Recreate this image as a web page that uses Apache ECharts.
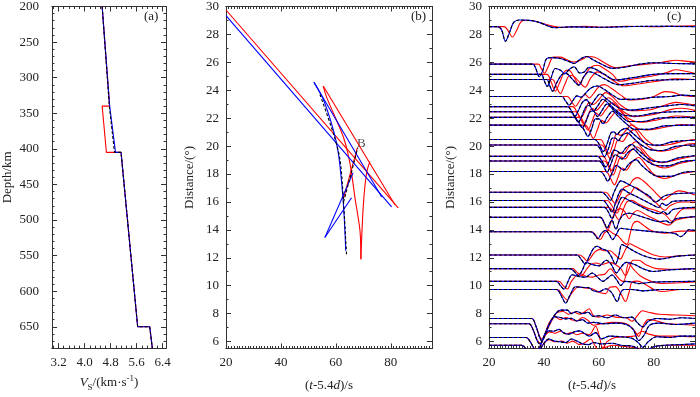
<!DOCTYPE html>
<html>
<head>
<meta charset="utf-8">
<script src="https://cdn.jsdelivr.net/npm/echarts@6/dist/echarts.min.js"></script>
<style>
  html, body { margin: 0; padding: 0; background: #fff; }
  #main { width: 700px; height: 397px; }
</style>
</head>
<body>
<div id="main"></div>
<script>
// ---- panel (a): S velocity vs depth ----
var vsBlue  = [[4.54, 200], [4.77, 340], [4.95, 405], [5.12, 405], [5.63, 650], [6.0, 650], [6.08, 680]];
var vsBlack = [[4.54, 200], [4.76, 340], [4.92, 405], [5.12, 405], [5.63, 650], [6.0, 650], [6.08, 680]];
var vsRed   = [[4.54, 200], [4.77, 340], [4.54, 340], [4.67, 405], [5.12, 405], [5.63, 650], [6.0, 650], [6.08, 680]];
var vsLabels = [3.2, 4.0, 4.8, 5.6, 6.4];
var depthLabels = [200, 250, 300, 350, 400, 450, 500, 550, 600, 650];

// ---- panel (b): travel time branches (t-5.4d, distance) ----
var ttBlue = [
  [[20, 29.35], [80.3, 15.65]],
  [[52.0, 24.58], [76.7, 16.35]],
  [[52.0, 24.58], [55.4, 23.35], [59.1, 21.14], [60.9, 19.5], [62.1, 17.4], [63.0, 15.07], [63.6, 12.5]],
  [[56.0, 13.45], [66.3, 18.1]],
  [[56.0, 13.45], [65.7, 16.3]]
];
var ttRed = [
  [[20, 29.75], [82.7, 15.58]],
  [[55.4, 24.3], [81.5, 15.8]],
  [[55.4, 24.3], [56.7, 23.47], [62.7, 20.67], [65.1, 18.8], [67.0, 16.24], [68.8, 13.9], [69.1, 11.9]],
  [[69.1, 11.9], [70.0, 15.77], [71.2, 18.1], [72.4, 18.9]],
  [[62.7, 16.2], [67.8, 19.85]]
];
var ttBlack = [
  [[54.2, 23.7], [59.1, 20.9], [61.5, 19.04], [62.7, 16.24], [63.9, 12.16]],
  [[62.8, 16.0], [65.5, 18.0], [68.0, 19.9]]
];
var pointB = [67.7, 20.2];

// ---- panel (c): waveforms, [time, offset in degrees] around each baseline ----
var traceDist = [28.56, 25.87, 25.14, 24.77, 23.55, 22.83, 22.46, 22.06, 21.5, 20.47, 20.08, 19.26, 18.93, 18.18,
                 16.69, 16.1, 15.61, 14.89, 13.86, 12.2, 11.22, 10.31, 9.73, 7.65, 7.27, 6.29, 5.73];
var waveBlue = [
  [[20,0],[23,0],[24.5,-0.2],[26,-1.05],[27.5,-0.4],[29,0.3],[31,0.47],[34,0.45],[36,0.42],[39,0.25],[42,0.0],[44,-0.08],[50,-0.02],[60,-0.05],[70,0.0],[80,0.02],[95,0]],
  [[20,0],[36,0],[37,-0.3],[38.3,-0.89],[39.5,-0.5],[41,0.4],[43,0.47],[46,0.4],[49,0.2],[51,0.05],[53.5,0.4],[55.5,0.55],[58,0.3],[61,0.0],[65,-0.3],[70,-0.2],[75,0.0],[80,0.1],[87,0.05],[95,0.02]],
  [[20,0],[39,0],[40,-0.4],[41.2,-0.86],[42.5,-0.3],[44.2,0.42],[46,0.3],[47.5,0.05],[49.5,0.4],[51,0.54],[53,0.1],[54.5,0.15],[56.5,0.5],[59,0.35],[62,0.0],[66,-0.4],[72,-0.25],[80,0.0],[88,0.05],[95,0.05]],
  [[20,0],[41,0],[42,-0.4],[43.2,-0.84],[44.5,-0.3],[46.5,0.35],[48,0.44],[50,0.1],[52.7,-0.4],[54.5,0.2],[56.5,0.56],[59,0.4],[62,0.05],[67.3,-0.37],[73,-0.25],[80,-0.05],[95,0]],
  [[20,0],[46.5,0],[47.8,-0.3],[49.2,-0.62],[50.5,-0.3],[52,0.05],[53.5,-0.05],[55,0.2],[57,0.6],[59.5,0.75],[62,0.5],[65,0.1],[68,-0.2],[72,-0.2],[80,-0.05],[86,0.0],[90,0.1],[95,0.05]],
  [[20,0],[48.5,0],[50,-0.3],[51.3,-0.7],[52.5,-0.3],[54,0.3],[55.5,0.5],[57,0.1],[58.5,0.5],[60.5,0.9],[62.5,0.6],[65,0.2],[68,-0.15],[72,-0.25],[78,-0.1],[85,0.05],[90,0.15],[95,0.05]],
  [[20,0],[49.5,0],[51,-0.3],[52.5,-0.75],[53.8,-0.3],[55.3,0.35],[56.5,0.45],[58,0.05],[59.5,0.4],[61.5,0.9],[63.5,0.6],[66,0.15],[69,-0.25],[74,-0.3],[80,-0.1],[88,0.0],[95,0.02]],
  [[20,0],[51,0],[52.5,-0.3],[54,-0.75],[55.3,-0.3],[56.8,0.4],[58,0.45],[59.5,0.05],[61,0.45],[63,0.95],[65,0.6],[68,0.1],[71,-0.3],[76,-0.3],[82,-0.05],[95,0]],
  [[20,0],[53,0],[54.5,-0.3],[56,-0.8],[57.3,-0.3],[58.8,0.45],[60,0.45],[61.5,0.1],[63,0.55],[65,1.0],[67,0.65],[70,0.1],[73,-0.3],[78,-0.3],[84,-0.05],[95,0]],
  [[20,0],[58.5,0],[60,-0.3],[61.6,-0.86],[63,-0.3],[64.5,0.5],[65.5,0.55],[66.5,0.35],[68,0.65],[70,0.8],[72,0.5],[75,0.0],[78,-0.35],[82,-0.4],[87,-0.15],[95,-0.05]],
  [[20,0],[59,0],[60.5,-0.3],[62,-0.85],[63.4,-0.3],[65,0.5],[66,0.5],[67,0.3],[68.5,0.7],[70.5,0.85],[72.5,0.5],[75.5,0.0],[79,-0.35],[83,-0.4],[88,-0.1],[95,0]],
  [[20,0],[59.5,0],[61,-0.3],[62.5,-0.75],[64,-0.25],[65.5,0.45],[66.5,0.4],[68,0.2],[70,0.65],[72,0.85],[74,0.5],[77,0.0],[80,-0.35],[84,-0.4],[89,-0.1],[95,0.05]],
  [[20,0],[60,0],[61.5,-0.3],[63,-0.8],[64.3,-0.25],[66,0.45],[67,0.35],[68.5,0.15],[70.5,0.6],[72.5,0.85],[74.5,0.5],[77.5,0.0],[80.5,-0.3],[85,-0.35],[90,-0.05],[95,0.05]],
  [[20,0],[60.5,0],[62,-0.3],[63.2,-0.7],[64.6,-0.2],[66.5,0.45],[67.5,0.3],[69,0.1],[71,0.55],[73.5,0.85],[75.5,0.45],[78.5,-0.05],[81.5,-0.35],[86,-0.35],[91,-0.05],[95,0.0]],
  [[20,0],[61,0],[62.5,-0.2],[64.2,-0.58],[65.5,0.0],[67,0.6],[68,0.82],[70,0.65],[73,0.35],[76,0.0],[78.5,-0.3],[80.5,-0.7],[82,-0.55],[84,-0.25],[88,-0.1],[95,-0.05]],
  [[20,0],[61.5,0],[63,-0.3],[64.8,-0.82],[66,-0.2],[67.3,0.5],[68.5,0.82],[70.5,0.6],[73.5,0.3],[77,-0.05],[80,-0.35],[81.8,-0.5],[83,-0.2],[84.5,-0.35],[87,-0.05],[95,0.0]],
  [[20,0],[62,0],[63.5,-0.35],[64.8,-0.8],[66,-0.3],[67.3,0.35],[68.5,0.72],[70.5,0.55],[74,0.2],[78,-0.2],[82,-0.45],[83.5,-0.3],[85,-0.5],[87,-0.15],[95,0.0]],
  [[20,0],[60.5,0],[62,-0.4],[63,-0.77],[64,-0.4],[64.8,-0.2],[65.5,-0.55],[66.2,-0.85],[67.5,-0.2],[69,0.2],[71,0.3],[74,0.15],[78,-0.1],[82,-0.3],[84.5,-0.25],[86,-0.4],[88,-0.1],[95,0.05]],
  [[20,0],[57,0],[58.5,-0.2],[59.6,-0.5],[61,-0.1],[62.5,0.1],[63.8,-0.2],[65,-0.56],[66.3,-0.2],[67.9,0.25],[70,0.2],[75,0.1],[80,0.0],[85,-0.05],[88,-0.15],[89.7,-0.35],[91.5,-0.1],[92.7,0.15],[95,0.1]],
  [[20,0],[52,0],[53.5,-0.3],[55,-0.65],[56.5,-0.1],[58,0.45],[59.3,0.63],[61,0.45],[63,0.3],[64.5,-0.1],[66,-0.65],[67.2,-0.1],[68.4,0.75],[70,0.6],[73,0.25],[77,-0.1],[82,-0.3],[88,-0.1],[95,0.0]],
  [[20,0],[49.5,0],[51,-0.2],[52.5,-0.5],[54,-0.1],[55.5,0.44],[57.5,0.3],[60,0.2],[62.7,0.6],[64.5,0.3],[66.4,-0.3],[68,0.1],[70,0.45],[73,0.3],[76,0.0],[79.7,-0.2],[85,-0.1],[95,0.0]],
  [[20,0],[44.5,0],[46,-0.3],[47.3,-0.56],[48.8,0.0],[50.3,0.47],[52.5,0.35],[55.2,0.3],[57.6,0.6],[59.5,0.3],[61.5,0.0],[63,0.2],[64.8,0.45],[66.5,0.1],[68,-0.3],[69.5,0.0],[72,-0.05],[74.5,-0.16],[80,-0.05],[95,0.0]],
  [[20,0],[44.5,0],[46.3,-0.45],[47.9,-0.98],[49.5,-0.4],[51.5,0.19],[53.5,0.15],[56.4,0.12],[58,-0.1],[60,-0.16],[62.5,0.05],[64.5,-0.2],[66.7,-0.86],[67.8,-0.3],[69.1,0.0],[72,0.0],[76,-0.1],[83,0.0],[95,0.0]],
  [[20,0],[35.5,0],[37,-0.5],[38.5,-1.4],[39.3,-1.6],[40.5,-1.1],[42.5,-0.2],[44.5,0.4],[46,0.6],[48.5,0.6],[50,0.35],[52,0.5],[54,0.35],[56,0.45],[58,0.15],[60,0.2],[63,0.05],[66,0.25],[69,0.05],[72,0.1],[74,-0.3],[76,-0.6],[78,-0.2],[81,0.0],[86,-0.05],[90,0.05],[95,0.0]],
  [[20,0],[34.5,0],[36,-0.4],[37.5,-1.2],[38.5,-1.45],[40,-0.9],[42,0.0],[44,0.5],[46,0.45],[48,0.35],[50,0.4],[52,0.2],[54,0.3],[56,0.05],[58,0.1],[62,0.0],[66,0.05],[70,-0.05],[72.5,-0.4],[74.5,-1.2],[76.5,-0.8],[78.5,-0.1],[82,0.05],[88,-0.05],[95,0.05]],
  [[20,0],[33.5,0],[35,-0.3],[36.5,-0.85],[37.5,-1.0],[38.5,-0.7],[40,0.05],[41.8,0.47],[43.5,0.45],[45.5,0.58],[47,0.35],[49,0.23],[51,0.4],[53,0.47],[55,0.25],[56.5,0.1],[58.8,0.35],[61,-0.1],[64,0.1],[68,0.05],[72,-0.05],[74.5,-0.4],[76,-0.7],[78,-0.3],[81,0.05],[86,0.0],[90,0.1],[95,0.1]],
  [[20,0],[32,0],[33.5,-0.3],[35,-0.8],[36.5,-1.0],[38,-0.6],[39.5,0.0],[41.8,0.44],[44,0.3],[46,0.25],[48,0.2],[50,0.45],[52,0.3],[54,0.1],[56.4,0.05],[58,0.2],[61,0.1],[65,0.15],[68,0.0],[72,-0.05],[75,-0.3],[77,-0.4],[80,-0.1],[84,0.0],[90,0.05],[95,0.1]]
];
var waveRed = [
  [[20,0],[25.5,0],[27,-0.3],[28.5,-0.75],[30,-0.3],[31.5,0.3],[33,0.45],[36,0.42],[40,0.2],[44,0.0],[46,-0.05],[55,0.03],[62,-0.05],[70,0.02],[80,0.0],[88,0.03],[95,0.05]],
  [[20,0],[38,0],[39,-0.3],[40.2,-0.65],[41.5,-0.2],[43.5,0.5],[46,0.5],[48,0.35],[51,0.15],[54,0.35],[56,0.55],[58.5,0.5],[62,0.1],[66,-0.25],[72,-0.1],[80,0.05],[85,0.2],[88,0.28],[92,0.2],[95,0.15]],
  [[20,0],[41,0],[42.5,-0.5],[44.2,-1.2],[45.5,-0.7],[47.5,0.2],[49,0.3],[51,-0.2],[52.7,-0.75],[54.5,-0.2],[57,0.5],[59.5,0.65],[62,0.4],[65,0.0],[67.5,-0.5],[72,-0.35],[80,-0.1],[85,0.15],[88,0.33],[92,0.2],[95,0.05]],
  [[20,0],[43,0],[44.5,-0.5],[46,-1.0],[47.5,-0.4],[49.5,0.3],[51,0.2],[53,-0.2],[55,-0.55],[57,0.1],[59.5,0.55],[62,0.35],[65,-0.05],[69,-0.45],[75,-0.3],[82,-0.1],[88,0.05],[95,0.0]],
  [[20,0],[48.5,0],[50,-0.35],[51.5,-0.7],[53,-0.3],[55,0.15],[56.5,-0.1],[58,0.2],[60,0.7],[62,0.85],[64.5,0.6],[68,0.1],[71,-0.25],[76,-0.2],[80,0.0],[84,0.35],[87,0.3],[90,0.1],[95,0.0]],
  [[20,0],[50.5,0],[52,-0.4],[53.5,-0.8],[55,-0.3],[56.5,0.3],[58,0.15],[60,0.5],[62.5,1.0],[65,0.7],[68,0.1],[72,-0.3],[78,-0.25],[84,0.1],[88,0.3],[92,0.2],[95,0.1]],
  [[20,0],[51.5,0],[53,-0.4],[54.5,-0.85],[56,-0.3],[57.5,0.25],[59,0.1],[61,0.5],[63.5,1.0],[66,0.65],[69,0.0],[73,-0.35],[80,-0.2],[86,0.15],[90,0.25],[95,0.1]],
  [[20,0],[53,0],[54.5,-0.4],[56,-0.9],[57.5,-0.3],[59,0.3],[60.5,0.1],[62.5,0.55],[65,1.05],[67.5,0.6],[70.5,-0.05],[75,-0.35],[82,-0.15],[88,0.1],[95,0.0]],
  [[20,0],[55,0],[56.5,-0.4],[58,-0.95],[59.5,-0.3],[61,0.35],[62.5,0.15],[64.5,0.6],[67,1.1],[69.5,0.6],[72.5,-0.05],[77,-0.35],[84,-0.15],[90,0.05],[95,0]],
  [[20,0],[60.5,0],[62,-0.4],[63.7,-1.0],[65,-0.4],[66.5,0.4],[68,0.3],[70,0.7],[72,1.05],[74.5,0.6],[77.5,-0.05],[81,-0.45],[86,-0.35],[91,-0.1],[95,0]],
  [[20,0],[61,0],[62.5,-0.4],[64.2,-1.0],[65.5,-0.4],[67,0.35],[68.5,0.25],[70.5,0.75],[72.8,1.1],[75,0.55],[78,-0.1],[82,-0.45],[87,-0.3],[92,0.05],[95,0.1]],
  [[20,0],[61.5,0],[63,-0.4],[64.7,-1.0],[66,-0.4],[67.5,0.3],[69,0.2],[71,0.7],[73.5,1.05],[76,0.5],[79,-0.15],[83,-0.45],[88,-0.25],[95,0.05]],
  [[20,0],[62,0],[63.5,-0.4],[65.2,-1.0],[66.5,-0.4],[68,0.3],[69.5,0.15],[71.5,0.7],[74,1.0],[76.5,0.5],[79.5,-0.2],[84,-0.5],[89,-0.2],[95,0.05]],
  [[20,0],[62.5,0],[64,-0.4],[65.7,-0.95],[67,-0.4],[68.5,0.25],[70,0.1],[72,0.65],[74.5,1.0],[77,0.5],[80,-0.2],[84,-0.5],[89,-0.2],[95,0.0]],
  [[20,0],[62.5,0],[64,-0.3],[66,-0.8],[67.5,-0.3],[69,0.3],[71,0.5],[72.5,0.9],[74,1.05],[76,0.85],[78,0.5],[80,0.1],[82,-0.3],[83.5,-0.55],[85.5,-0.3],[89,0.1],[95,-0.2]],
  [[20,0],[63,0],[64.5,-0.3],[66.6,-0.9],[68,-0.3],[70,0.3],[71.5,0.5],[73.3,0.95],[75,0.75],[77.5,0.35],[80,0.0],[82.5,-0.5],[84,-0.7],[86,-0.35],[90,-0.1],[95,-0.1]],
  [[20,0],[63.5,0],[65.5,-0.4],[67.3,-0.9],[68.8,-0.2],[70.2,0.4],[72,0.5],[74,0.3],[77,0.0],[81,-0.25],[84,-0.5],[86.7,-1.0],[88.5,-0.5],[91,-0.1],[95,-0.1]],
  [[20,0],[60.5,0],[62,-0.45],[63.2,-0.9],[64.5,-0.3],[66,0.4],[67.9,0.63],[69.5,0.4],[71,-0.1],[72.5,0.3],[74,0.5],[77,0.2],[80,-0.1],[83,-0.4],[85.5,-0.55],[88,-0.2],[95,0.05]],
  [[20,0],[57.5,0],[59,-0.3],[60.5,-0.55],[62,-0.1],[63.5,0.1],[65,-0.1],[67,-0.3],[69,-0.75],[70.2,-0.9],[71.3,-0.2],[72.5,0.6],[74,0.75],[76,0.5],[79,0.1],[84,-0.1],[90,0.05],[95,0.05]],
  [[20,0],[53,0],[54.5,-0.2],[55.8,-0.45],[57,-0.2],[58.5,0.2],[60.3,0.4],[62,0.3],[64,0.3],[66,0.0],[67.8,-0.3],[69,0.1],[70,0.5],[71.2,0.8],[73,0.65],[76,0.35],[80,0.0],[84,-0.15],[90,-0.05],[95,0.0]],
  [[20,0],[50.5,0],[52,-0.25],[53.7,-0.5],[55,-0.2],[57,0.3],[59,0.4],[61,0.3],[64,0.45],[66,0.3],[68,0.0],[69.7,-0.5],[71,0.0],[72.5,0.6],[74.5,0.6],[77,0.3],[81,0.0],[88,-0.05],[95,0.0]],
  [[20,0],[45.5,0],[47,-0.3],[48.5,-0.55],[50,0.0],[53,0.55],[55.5,0.35],[57.6,0.3],[60,0.45],[62,0.5],[64.2,0.9],[66,0.5],[67.8,0.1],[69,0.0],[70.9,1.3],[72.5,0.9],[75,0.4],[79,0.0],[83,-0.15],[95,-0.05]],
  [[20,0],[45,0],[46.5,-0.35],[48.5,-0.75],[50,-0.3],[52.7,0.19],[55,0.1],[57.6,0.05],[60,-0.2],[62.5,-0.3],[64,0.15],[66,0.2],[68,-0.3],[69.7,-0.86],[71,-0.2],[72.1,0.54],[74,0.6],[77,0.35],[80,0.0],[83,-0.15],[90,0.0],[95,0.0]],
  [[20,0],[35.5,0],[37,-0.5],[38.5,-1.3],[39.5,-1.5],[41,-0.9],[43,-0.1],[45,0.45],[47,0.5],[49,0.3],[51,0.45],[53,0.3],[55,0.5],[56.5,0.7],[58,0.2],[60,0.1],[63,0.25],[66,0.1],[70,0.05],[72,-0.2],[74,0.2],[75.8,0.55],[78,0.45],[82,0.3],[88,0.25],[95,0.2]],
  [[20,0],[34.5,0],[36,-0.4],[37.5,-1.15],[38.7,-1.4],[40.2,-0.8],[42,0.1],[44,0.5],[46,0.3],[48,0.45],[50,0.3],[52,0.2],[54,0.45],[56,0.25],[58,-0.1],[61,0.0],[65,0.1],[70,0.0],[73,-0.5],[74.5,-0.9],[76,-0.2],[78,0.3],[80,0.25],[85,0.0],[90,-0.05],[95,-0.1]],
  [[20,0],[33.5,0],[35,-0.3],[36.5,-0.8],[37.6,-0.95],[38.7,-0.6],[40.2,0.05],[42,0.4],[44,0.3],[46,0.45],[48,0.25],[50,0.35],[52,0.2],[54,0.3],[56.5,0.2],[58.8,0.8],[60,0.2],[61.5,-0.75],[63,-0.3],[66,0.0],[70,0.05],[73,0.1],[75.8,0.45],[78,0.25],[82,0.1],[88,0.1],[95,0.05]],
  [[20,0],[32,0],[33.5,-0.3],[35,-0.75],[36.5,-0.95],[38,-0.55],[39.7,0.05],[42,0.4],[44,0.25],[46.5,0.3],[48.5,0.15],[50.5,0.3],[53,0.05],[55,0.2],[57,0.45],[58.5,0.0],[60,-0.4],[62,-0.2],[65,0.0],[70,-0.1],[74,-0.2],[77,-0.4],[80,-0.1],[85,0.0],[95,0.0]]
];
var timeLabels = [20, 40, 60, 80];
var distLabels = [6, 8, 10, 12, 14, 16, 18, 20, 22, 24, 26, 28, 30];

var FONT = '"Liberation Serif", "Times New Roman", serif';
var TXT = '#222';
var BLUE = '#0000ff', RED = '#ff0000', BLACK = '#000000';

function steps(a, b, s) {
  var out = [];
  for (var v = a; v <= b + 1e-9; v += s) out.push(Math.round(v * 1000) / 1000);
  return out;
}

// four copies of an axis: bottom/top (or left/right), major and minor ticks, ticks inside
function frameAxes(dim, grid, min, max, labels, minor, extra) {
  var pos = dim === 'x' ? ['bottom', 'top'] : ['left', 'right'];
  var list = [];
  pos.forEach(function (p, k) {
    [0, 1].forEach(function (isMinor) {
      var ax = {
        type: 'value', gridIndex: grid, position: p, min: min, max: max,
        splitLine: { show: false },
        axisLine: { show: true, onZero: false, lineStyle: { color: '#333', width: 1 } },
        axisTick: { show: true, inside: true, length: isMinor ? 2.5 : 5,
                    customValues: isMinor ? minor : labels, lineStyle: { color: '#333' } },
        axisLabel: { show: false }
      };
      if (extra.inverse) ax.inverse = true;
      if (k === 0 && !isMinor) {
        ax.axisLabel = { show: true, customValues: labels, color: TXT, fontFamily: FONT, fontSize: 13,
                         margin: extra.margin, formatter: extra.fmt };
        ax.name = extra.name;
        ax.nameLocation = 'middle';
        ax.nameGap = extra.nameGap;
        ax.nameTextStyle = { color: TXT, fontFamily: FONT, fontSize: 13, rich: extra.rich || {} };
      }
      list.push(ax);
    });
  });
  return list;
}

var richName = {
  i: { fontStyle: 'italic', fontFamily: FONT, fontSize: 13, color: TXT, lineHeight: 18 },
  s: { fontFamily: FONT, fontSize: 9, color: TXT, verticalAlign: 'bottom' },
  p: { fontFamily: FONT, fontSize: 9, color: TXT, verticalAlign: 'top' },
  n: { fontFamily: FONT, fontSize: 13, color: TXT, lineHeight: 18 }
};

var xAxes = [].concat(
  frameAxes('x', 0, 3.0, 6.5, vsLabels, steps(3.04, 6.5, 0.16), {
    margin: 8, nameGap: 25, rich: richName,
    fmt: function (v) { return v.toFixed(1); },
    name: '{i|V}{s|S}{n|/(km·s}{p|-1}{n|)}'
  }),
  frameAxes('x', 1, 20, 95, timeLabels, steps(20, 95, 1), {
    margin: 8, nameGap: 28, rich: richName, name: '{n|(}{i|t}{n|-5.4}{i|d}{n|)/s}'
  }),
  frameAxes('x', 2, 20, 95, timeLabels, steps(20, 95, 1), {
    margin: 8, nameGap: 28, rich: richName, name: '{n|(}{i|t}{n|-5.4}{i|d}{n|)/s}'
  })
);
var yAxes = [].concat(
  frameAxes('y', 0, 200, 680, depthLabels, steps(200, 680, 10), {
    margin: 13, nameGap: 38, name: 'Depth/km', inverse: true
  }),
  frameAxes('y', 1, 5.5, 30, distLabels, steps(6, 30, 1), {
    margin: 7, nameGap: 30, name: 'Distance/(°)'
  }),
  frameAxes('y', 2, 5.5, 30, distLabels, steps(6, 30, 1), {
    margin: 7, nameGap: 32, name: 'Distance/(°)'
  })
);

function line(grid, data, color, dashed, smooth) {
  return {
    type: 'line', xAxisIndex: grid * 4, yAxisIndex: grid * 4, data: data,
    showSymbol: false, symbol: 'none', smooth: smooth || false, animation: false, silent: true,
    lineStyle: { color: color, width: 1.1, type: dashed ? [3, 2] : 'solid' }
  };
}

var series = [];
// (a)
series.push(line(0, vsRed, RED));
series.push(line(0, vsBlue, BLUE));
series.push(line(0, vsBlack, BLACK, true));
// (b)
ttRed.forEach(function (d) { series.push(line(1, d, RED, false, d.length > 3 ? 0.3 : false)); });
ttBlue.forEach(function (d) { series.push(line(1, d, BLUE, false, d.length > 3 ? 0.3 : false)); });
ttBlack.forEach(function (d) { series.push(line(1, d, BLACK, true, d.length > 3 ? 0.3 : false)); });
series.push({
  type: 'scatter', xAxisIndex: 4, yAxisIndex: 4, data: [pointB], symbolSize: 0, silent: true,
  label: { show: true, position: 'right', distance: 0, formatter: 'B', color: TXT, fontFamily: FONT, fontSize: 13 }
});
// (c)
function shifted(wave, base) {
  return wave.map(function (p) { return [p[0], base + p[1]]; });
}
traceDist.forEach(function (d, i) {
  series.push(line(2, shifted(waveRed[i], d), RED, false, 0.35));
});
traceDist.forEach(function (d, i) {
  series.push(line(2, shifted(waveBlue[i], d), BLUE, false, 0.35));
  series.push(line(2, shifted(waveBlue[i], d), BLACK, true, 0.35));
});

var chart = echarts.init(document.getElementById('main'), null, { renderer: 'canvas' });
chart.setOption({
  backgroundColor: '#ffffff',
  animation: false,
  grid: [
    { left: 50, top: 6, width: 116, height: 351 },
    { left: 226, top: 6, width: 206, height: 351 },
    { left: 489, top: 6, width: 206, height: 351 }
  ],
  xAxis: xAxes,
  yAxis: yAxes,
  graphic: [
    { type: 'text', left: 144, top: 10, style: { text: '(a)', font: '13px ' + FONT, fill: TXT } },
    { type: 'text', left: 411, top: 10, style: { text: '(b)', font: '13px ' + FONT, fill: TXT } },
    { type: 'text', left: 667, top: 10, style: { text: '(c)', font: '13px ' + FONT, fill: TXT } }
  ],
  series: series
});
</script>
</body>
</html>
